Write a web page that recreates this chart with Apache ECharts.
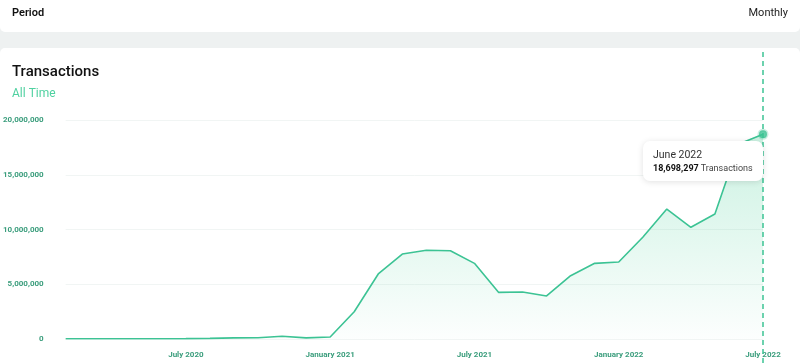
<!DOCTYPE html>
<html>
<head>
<meta charset="utf-8">
<script src="https://cdn.jsdelivr.net/npm/echarts@6/dist/echarts.min.js"></script>
<style>
  html, body { margin: 0; padding: 0; background: #eef1f1; }
  #chart { width: 800px; height: 363px; }
</style>
</head>
<body>
<div id="chart"></div>
<script>
// Axis positions (period end dates) used as categories
const axisDates = [
  "February 2020","March 2020","April 2020","May 2020","June 2020","July 2020",
  "August 2020","September 2020","October 2020","November 2020","December 2020","January 2021",
  "February 2021","March 2021","April 2021","May 2021","June 2021","July 2021",
  "August 2021","September 2021","October 2021","November 2021","December 2021","January 2022",
  "February 2022","March 2022","April 2022","May 2022","June 2022","July 2022"
];
// Month each value belongs to (shown in tooltip)
const dataMonths = [
  "January 2020","February 2020","March 2020","April 2020","May 2020","June 2020",
  "July 2020","August 2020","September 2020","October 2020","November 2020","December 2020",
  "January 2021","February 2021","March 2021","April 2021","May 2021","June 2021",
  "July 2021","August 2021","September 2021","October 2021","November 2021","December 2021",
  "January 2022","February 2022","March 2022","April 2022","May 2022","June 2022"
];
// Monthly transactions
const transactions = [
  20000, 20000, 20000, 20000, 25000, 30000,
  60000, 100000, 120000, 250000, 100000, 180000,
  2490000, 5940000, 7760000, 8100000, 8060000, 6910000,
  4260000, 4290000, 3930000, 5780000, 6910000, 7030000,
  9290000, 11870000, 10200000, 11420000, 17800000, 18698297
];
const tickLabels = ["July 2020","January 2021","July 2021","January 2022","July 2022"];
const yTicks = [0, 5000000, 10000000, 15000000, 20000000];

const GREEN = '#3cc394';
const LABEL_GREEN = '#3a9d7c';
const last = transactions.length - 1;
const fmt = v => v.toLocaleString('en-US');

const chart = echarts.init(document.getElementById('chart'), null, { renderer: 'canvas' });
chart.setOption({
  animation: false,
  backgroundColor: '#eef1f1',
  graphic: [
    { type: 'rect', shape: { x: 0, y: 0, width: 800, height: 32, r: [0, 0, 5, 5] }, style: { fill: '#ffffff' }, z: -10 },
    { type: 'rect', shape: { x: 0, y: 48, width: 800, height: 315, r: [5, 5, 0, 0] }, style: { fill: '#ffffff' }, z: -10 },
    { type: 'text', left: 12, top: 8, style: { text: 'Period', font: '600 11px Roboto', fill: '#111' } },
    { type: 'text', right: 12, top: 8, style: { text: 'Monthly', font: '400 11px Roboto', fill: '#222' } }
  ],
  title: {
    text: 'Transactions',
    subtext: 'All Time',
    left: 12, top: 65,
    padding: 0,
    itemGap: 8,
    textStyle: { fontFamily: 'Roboto', fontWeight: 500, fontSize: 15, color: '#111' },
    subtextStyle: { fontFamily: 'Roboto', fontWeight: 400, fontSize: 12, color: '#4fd1a0' }
  },
  tooltip: {
    trigger: 'item',
    triggerOn: 'none',
    alwaysShowContent: true,
    position: [643, 141],
    backgroundColor: '#ffffff',
    borderWidth: 0,
    padding: [6, 10, 6, 10],
    extraCssText: 'box-shadow: 0 1px 6px rgba(0,0,0,0.12); border-radius: 7px;',
    formatter: p => {
      const i = p.dataIndex;
      return '<div style="font-family:Roboto;font-size:10.5px;color:#333;line-height:15px">' + dataMonths[i] + '</div>' +
        '<div style="font-family:Roboto;font-size:9px;color:#444;line-height:13px"><b style="color:#111;font-weight:700">' +
        fmt(transactions[i]) + '</b> Transactions</div>';
    }
  },
  grid: [
    { left: 62, right: 37, top: 120, bottom: 24 },
    { left: 62, right: 37, top: 48, bottom: 0 }
  ],
  xAxis: [
    {
      type: 'category', gridIndex: 0, data: axisDates, boundaryGap: false,
      axisLine: { show: false }, axisTick: { show: false },
      axisLabel: {
        interval: (i, v) => tickLabels.indexOf(v) >= 0,
        margin: 12, color: LABEL_GREEN, fontFamily: 'Roboto', fontWeight: 700, fontSize: 8
      },
      splitLine: { show: false }
    },
    { type: 'category', gridIndex: 1, data: axisDates, boundaryGap: false, show: false }
  ],
  yAxis: [
    {
      type: 'value', gridIndex: 0, min: yTicks[0], max: yTicks[yTicks.length - 1], interval: 5000000,
      axisLine: { show: false }, axisTick: { show: false },
      axisLabel: { margin: 22, color: LABEL_GREEN, fontFamily: 'Roboto', fontWeight: 700, fontSize: 8,
        formatter: v => fmt(v) },
      splitLine: { lineStyle: { color: '#f1f5f4', width: 1 } }
    },
    { type: 'value', gridIndex: 1, min: 0, max: 1, show: false }
  ],
  series: [
    {
      type: 'line', xAxisIndex: 0, yAxisIndex: 0,
      data: transactions,
      symbol: 'none',
      lineStyle: { color: GREEN, width: 1.6 },
      areaStyle: {
        color: new echarts.graphic.LinearGradient(0, 0, 0, 1, [
          { offset: 0, color: 'rgba(60,205,145,0.38)' },
          { offset: 1, color: 'rgba(60,205,145,0.02)' }
        ])
      },
      silent: true
    },
    {
      type: 'scatter', xAxisIndex: 0, yAxisIndex: 0,
      data: transactions.map((v, i) => i === last ? v : null),
      symbolSize: 8,
      itemStyle: { color: GREEN, borderColor: 'rgba(60,195,148,0.35)', borderWidth: 3 },
      z: 5
    },
    {
      type: 'line', xAxisIndex: 1, yAxisIndex: 1, data: [],
      markLine: {
        silent: true, symbol: 'none',
        label: { show: false },
        lineStyle: { color: GREEN, type: [5, 4], width: 1.5 },
        data: [{ xAxis: axisDates[last] }]
      }
    }
  ]
});
chart.dispatchAction({ type: 'showTip', seriesIndex: 1, dataIndex: last });
</script>
</body>
</html>
